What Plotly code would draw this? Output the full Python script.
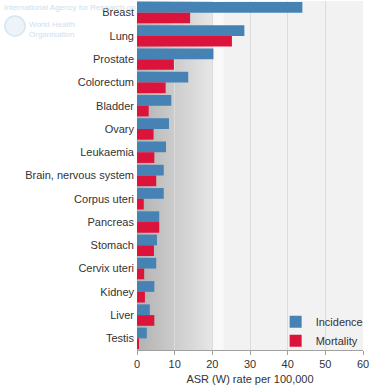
import plotly.graph_objects as go

categories = ["Breast", "Lung", "Prostate", "Colorectum", "Bladder", "Ovary", "Leukaemia",
              "Brain, nervous system", "Corpus uteri", "Pancreas", "Stomach", "Cervix uteri",
              "Kidney", "Liver", "Testis"]
incidence = [43.9, 28.5, 20.3, 13.6, 9.1, 8.5, 7.7, 7.1, 7.1, 5.9, 5.3, 5.1, 4.6, 3.4, 2.6]
mortality = [14.1, 25.2, 9.8, 7.6, 3.1, 4.4, 4.6, 5.1, 1.8, 5.9, 4.5, 1.9, 2.1, 4.6, 0.3]
x_ticks = [0, 10, 20, 30, 40, 50, 60]

FONT = "Liberation Sans, Arial, sans-serif"

fig = go.Figure()
fig.add_trace(go.Bar(y=categories, x=incidence, orientation="h", name="Incidence",
                     marker=dict(color="#4682b4", line=dict(width=0))))
fig.add_trace(go.Bar(y=categories, x=mortality, orientation="h", name="Mortality",
                     marker=dict(color="#dc143c", line=dict(width=0))))

# background gradient (style only): overlapping rects to avoid seams
shapes = []
n = 40
for i in range(n):
    t = i / (n - 1)
    c = int(round(0xb2 + (0xe6 - 0xb2) * t))
    shapes.append(dict(type="rect", xref="x", yref="paper", x0=20 * i / n, x1=20,
                       y0=0, y1=1, fillcolor=f"rgb({c},{c},{c})", line=dict(width=0), layer="between"))
shapes.append(dict(type="rect", xref="x", yref="paper", x0=20.2, x1=23, y0=0, y1=1,
                   fillcolor="#f9f9f9", line=dict(width=0), layer="between"))
# WHO emblem placeholder
shapes.append(dict(type="circle", xref="paper", yref="paper", x0=-0.585, x1=-0.495, y0=0.9, y1=0.957,
                   fillcolor="#edf3f8", line=dict(color="#d6e6f2", width=1.5)))

fig.update_layout(
    width=389, height=389,
    margin=dict(l=137, r=26, t=1, b=39),
    paper_bgcolor="white",
    plot_bgcolor="#f2f2f2",
    barmode="group", bargap=0.08, bargroupgap=0,
    font=dict(family=FONT, size=11, color="#333333"),
    shapes=shapes,
    showlegend=True,
    legend=dict(x=1.025, y=-0.015, xanchor="right", yanchor="bottom", bgcolor="rgba(0,0,0,0)",
                font=dict(size=11, color="#333333"), itemwidth=30, tracegroupgap=0),
    xaxis=dict(range=[0, 60], tickvals=x_ticks, showgrid=True, gridcolor="#dcdcdc", gridwidth=1,
               zeroline=False, showline=True, linecolor="#a0a0a0", ticks="outside", ticklen=4,
               tickcolor="#a0a0a0", tickfont=dict(size=11, color="#333333"),
               title=dict(text="ASR (W) rate per 100,000", font=dict(size=11, color="#333333"), standoff=6)),
    yaxis=dict(autorange="reversed", categoryorder="array", categoryarray=categories,
               showgrid=False, zeroline=False, showline=False, ticks="", ticklabelstandoff=2,
               tickfont=dict(size=11, color="#333333")),
    annotations=[
        dict(text="International Agency for Research on", xref="paper", yref="paper",
             x=-0.598, y=1.0, xanchor="left", yanchor="top", showarrow=False,
             font=dict(size=8, color="#cfe0ee")),
        dict(text="World Health<br>Organisation", xref="paper", yref="paper",
             x=-0.485, y=0.952, xanchor="left", yanchor="top", showarrow=False, align="left",
             font=dict(size=8, color="#cfe0ee")),
    ],
)

fig.write_html("out.html", config={"displayModeBar": False},
               post_script="document.body.style.margin='0';document.body.style.padding='0';")
